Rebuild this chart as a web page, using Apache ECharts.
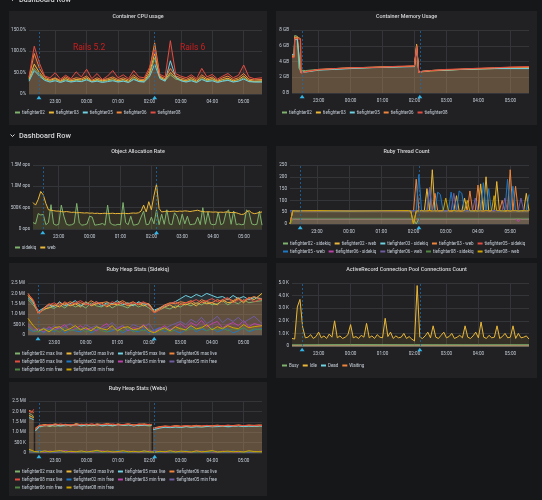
<!DOCTYPE html>
<html>
<head>
<meta charset="utf-8" />
<title>Dashboard</title>
<style>
  html, body { margin: 0; padding: 0; background: #161719; }
  #main { width: 542px; height: 500px; }
</style>
</head>
<body>
<div id="main"></div>
<script src="https://cdn.jsdelivr.net/npm/echarts@6.0.0/dist/echarts.min.js"></script>
<script>
// x is minutes after 22:00, so 60 = 23:00 and 455 = 05:35
var HOURS = [60, 120, 180, 240, 300, 360, 420];
var HOUR_LABELS = ['23:00', '00:00', '01:00', '02:00', '03:00', '04:00', '05:00'];
var ANNOTATIONS = [29, 250];

var T10 = [10,20,30,40,50,60,70,80,90,100,110,120,130,140,150,160,170,180,190,200,210,220,230,240,250,
  260,270,280,290,300,310,320,330,340,350,360,370,380,390,400,410,420,430,440,455];
var T5 = [];
for (var m = 10; m <= 455; m += 5) T5.push(m);

// tick labels
var cpuTicks = ['0%', '50.0%', '100.0%', '150.0%'];
var memTicks = ['0 B', '2 GB', '4 GB', '6 GB', '8 GB'];
var allocTicks = ['0 ops', '500K ops', '1.0M ops', '1.5M ops'];
var threadTicks = ['0', '50', '100', '150', '200', '250'];
var heapTicks = ['0', '500 K', '1.0 Mil', '1.5 Mil', '2.0 Mil', '2.5 Mil'];
var arTicks = ['0', '1.0 K', '2.0 K', '3.0 K', '4.0 K', '5.0 K'];

// Container CPU usage (%), on T10
var cpu02 = [33,60,46,34,30,33,29,33,29,32, 30,35,29,32,29,31,33,29,31,28, 36,30,29,44,85,38,31,45,35,32, 29,33,28,36,31,33,29,31,34,29, 31,38,30,29,29];
var cpu03 = [35,70,50,36,32,36,30,36,31,34, 33,38,30,34,31,33,36,31,34,30, 40,32,31,48,95,40,33,50,38,34, 31,36,30,40,33,36,30,34,37,31, 34,42,32,30,31];
var cpu05 = [30,55,42,32,28,31,27,31,28,30, 29,33,28,30,27,29,31,28,30,27, 34,29,28,40,70,36,30,78,40,31, 28,31,27,34,29,31,27,30,32,28, 30,35,29,28,28];
var cpu06 = [38,95,60,40,34,38,32,40,34,38, 36,42,32,38,33,36,40,34,38,33, 45,35,34,55,120,42,36,60,42,38, 34,40,33,45,36,40,32,38,42,34, 38,48,35,33,34];
var cpu08 = [40,112,72,42,38,50,35,44,36,52, 40,58,36,48,34,42,55,38,45,36, 55,40,38,62,105,46,40,125,48,42, 38,45,36,60,40,46,35,42,48,38, 44,68,40,36,38];

// Container Memory Usage (GB)
var memT = [10,14,15,20,23,26,27, 35,60,90,120,150,180,210,240, 243,244,247,248,255, 270,300,330,360,390,420,455];
var mem02 = [4.8,4.8,7.3,7.2,3.1,3.0,2.9, 2.85,3.0,3.1,3.2,3.25,3.3,3.35,3.4, 3.4,6.0,5.9,2.7,2.75, 2.85,2.95,3.0,3.1,3.15,3.15,3.2];
var mem03 = [4.6,4.6,7.0,7.0,7.0,2.7,2.6, 2.7,2.95,3.05,3.15,3.2,3.3,3.35,3.4, 3.45,6.2,6.1,2.6,2.7, 2.8,2.9,3.0,3.05,3.1,3.15,3.2];
var mem05 = [4.9,4.9,6.8,6.8,6.8,2.6,2.5, 2.65,2.9,3.0,3.1,3.2,3.25,3.3,3.35, 3.35,5.8,5.8,2.7,2.75, 2.85,2.9,3.0,3.05,3.1,3.1,3.1];
var mem06 = [4.7,4.7,7.1,7.1,7.0,6.9,2.6, 2.7,2.95,3.1,3.2,3.25,3.3,3.35,3.4, 3.45,6.1,6.0,2.65,2.75, 2.85,2.95,3.05,3.1,3.2,3.25,3.3];
var mem08 = [4.5,4.5,6.9,6.9,6.9,6.8,2.5, 2.7,3.0,3.1,3.2,3.25,3.3,3.4,3.45, 3.45,5.9,5.9,2.6,2.75, 2.85,3.0,3.05,3.15,3.2,3.3,3.35];

// Object Allocation Rate (K ops), on T5
var allocSidekiq = [150,120,360,330,340,100,150,570,120,90, 110,560,300,110,90,100,130,600,140,90,
  100,120,300,280,90,100,110,130,90,560, 140,100,90,110,100,620,150,100,300,90,
  100,120,280,420,100,110,280,120,450,100, 350,110,450,120,100,380,300,100,350,120,
  300,100,110,120,280,100,500,110,400,120, 100,110,400,100,130,380,450,110,420,100,
  120,100,110,450,380,120,100,110,420,90];
var allocWeb = [620,560,690,880,800,600,450,440,430,420, 420,410,400,410,400,390,395,380,385,380,
  375,380,370,375,365,370,360,365,370,360, 365,370,360,365,360,370,365,360,370,375,
  370,380,420,560,400,640,450,780,1050,480, 400,410,420,410,415,420,410,420,415,425,
  420,410,420,430,440,420,410,400,405,400, 395,400,390,395,390,400,395,385,390,380,
  360,340,350,400,430,380,360,370,390,400];

// Ruby Thread Count
var thrT = [10,15,20,25,30,60,120,180,230,235];
for (var k = 240; k <= 455; k += 5) thrT.push(k);
var web02 = [0,55,56,55,57,56,55,57,56,55,
  0,56,55,57,55,150,56,230,55,57, 55,56,55,57,55,56,120,55,56,110, 55,57,55,56,55,170,56,200,55,57, 56,180,55,57,55,56,55,57,56,55, 57,55,130,56];
var web03 = [0,56,55,57,56,55,57,56,55,56,
  55,190,56,55,57,55,56,55,130,56, 55,57,55,56,55,57,55,56,55,57, 55,140,56,55,165,56,55,57,55,56, 55,57,56,100,55,56,230,57,160,55, 56,55,57,56];
var web05 = [56,57,55,56,57,56,55,57,56,57,
  56,57,210,55,56,57,150,55,56,135, 125,56,55,57,135,55,56,140,130,55, 57,56,55,57,56,55,175,56,150,55, 57,56,55,57,56,190,55,160,56,55, 57,56,55,125];
var web06 = [55,56,57,55,56,57,56,55,57,56,
  55,56,57,55,56,55,155,56,55,57, 55,56,55,57,56,130,55,56,57,55, 56,55,57,110,55,56,57,55,56,55, 57,56,55,56,110,55,57,56,55,56, 110,57,55,56];
var web08 = [0,57,56,55,56,57,55,56,57,55,
  0,55,56,57,55,56,57,55,56,55, 57,56,110,55,56,57,55,56,55,57, 100,55,56,57,55,56,55,57,56,55, 120,56,57,55,56,57,55,56,57,55, 56,57,55,56];
var sqT = [10,15,20,240,245,250,430,435,440,455];
var sq02 = [0,22,22,22,0,22,22,22,22,22];
var sq03 = [22,22,22,22,22,22,22,22,22,22];
var sq05 = [21,21,22,22,21,22,22,22,22,22];
var sq06 = [23,23,23,23,23,23,23,10,23,23];
var sq08 = [0,24,24,24,24,24,24,24,24,24];

// Ruby Heap Stats (Sidekiq), millions, on T10
var sqMax02 = [1.70,1.45,1.10,1.20,1.35,1.28,1.45,1.30,1.50,1.35, 1.45,1.30,1.55,1.40,1.35,1.50,1.30,1.45,1.40,1.30, 1.50,1.35,1.45,1.30,1.10,1.20,1.32,1.25,1.40,1.35, 1.50,1.40,1.55,1.45,1.60,1.45,1.50,1.65,1.45,1.60, 1.50,1.70,1.55,1.60,1.65];
var sqMax03 = [1.90,1.60,1.05,1.25,1.30,1.45,1.35,1.55,1.40,1.50, 1.35,1.60,1.40,1.50,1.55,1.35,1.50,1.45,1.55,1.40, 1.45,1.55,1.40,1.50,1.15,1.25,1.35,1.45,1.30,1.50, 1.45,1.55,1.40,1.60,1.50,1.55,1.45,1.70,1.55,1.60, 1.75,1.55,1.80,1.70,2.00];
var sqMax05 = [1.80,1.55,1.15,1.30,1.45,1.35,1.60,1.40,1.50,1.65, 1.40,1.55,1.45,1.60,1.40,1.55,1.50,1.65,1.45,1.55, 1.40,1.60,1.50,1.45,1.20,1.30,1.40,1.50,1.60,1.75, 1.90,1.80,1.95,1.85,2.00,1.90,1.80,1.85,1.70,1.90, 1.75,1.85,1.70,1.80,1.75];
var sqMax06 = [2.00,1.65,1.00,1.30,1.50,1.40,1.55,1.45,1.60,1.50, 1.55,1.45,1.65,1.50,1.55,1.60,1.45,1.55,1.65,1.50, 1.60,1.45,1.55,1.50,1.10,1.30,1.45,1.55,1.50,1.60, 1.55,1.65,1.50,1.70,1.60,1.55,1.70,1.60,1.75,1.65, 1.80,1.60,1.75,1.85,1.70];
var sqMax08 = [1.95,1.70,1.05,1.25,1.45,1.55,1.40,1.60,1.45,1.55, 1.65,1.50,1.45,1.60,1.50,1.40,1.60,1.50,1.55,1.45, 1.55,1.50,1.60,1.40,1.05,1.20,1.40,1.50,1.60,1.45, 1.55,1.60,1.70,1.55,1.65,1.75,1.60,1.70,1.80,1.55, 1.70,1.65,1.80,1.60,1.75];
var sqFree02 = [0.30,0.15,0.25,0.10,0.30,0.15,0.35,0.10,0.25,0.20, 0.15,0.30,0.10,0.25,0.35,0.15,0.20,0.30,0.10,0.25, 0.20,0.15,0.30,0.10,0.25,0.35,0.15,0.30,0.20,0.10, 0.25,0.40,0.15,0.30,0.20,0.35,0.15,0.25,0.30,0.10, 0.20,0.35,0.15,0.25,0.30];
var sqFree03 = [0.45,0.20,0.30,0.15,0.40,0.25,0.35,0.50,0.20,0.30, 0.45,0.25,0.35,0.20,0.40,0.55,0.25,0.30,0.45,0.20, 0.35,0.30,0.50,0.25,0.15,0.30,0.45,0.25,0.40,0.55, 0.35,0.60,0.45,0.70,0.40,0.55,0.65,0.35,0.50,0.60, 0.45,0.70,0.40,0.55,0.45];
var sqFree05 = [0.55,0.30,0.20,0.35,0.25,0.45,0.30,0.40,0.55,0.35, 0.25,0.50,0.35,0.45,0.30,0.40,0.60,0.35,0.45,0.30, 0.50,0.40,0.35,0.55,0.20,0.35,0.30,0.45,0.55,0.65, 0.50,0.75,0.60,0.85,0.55,0.70,0.90,0.60,0.80,0.65, 0.85,0.60,0.75,0.90,0.55];
var sqFree06 = [0.40,0.20,0.15,0.30,0.20,0.25,0.15,0.35,0.20,0.25, 0.30,0.15,0.25,0.35,0.20,0.15,0.30,0.25,0.20,0.35, 0.15,0.25,0.20,0.30,0.10,0.20,0.30,0.15,0.25,0.35, 0.20,0.30,0.25,0.40,0.20,0.30,0.25,0.35,0.20,0.30, 0.25,0.35,0.20,0.30,0.25];
var sqFree08 = [0.80,0.45,0.20,0.30,0.15,0.35,0.40,0.20,0.30,0.45, 0.25,0.35,0.20,0.40,0.30,0.25,0.45,0.20,0.35,0.40, 0.25,0.30,0.45,0.20,0.10,0.25,0.35,0.20,0.40,0.30, 0.25,0.45,0.30,0.35,0.50,0.25,0.40,0.30,0.45,0.35, 0.30,0.50,0.35,0.40,0.45];

// ActiveRecord Connection Pool Connections Count
var arIdle = [600,550,3100,3700,1500,650,700,900,600,750, 1100,650,800,600,950,700,2000,650,800,600,
  700,900,1700,650,750,600,850,700,1800,650, 800,600,900,700,650,2200,750,1100,600,800,
  650,700,1000,600,750,550,400,4800,700,600, 800,1100,650,1600,700,600,850,1100,650,750,
  1000,600,700,850,650,1600,700,600,800,1100, 650,1900,700,600,850,650,700,1600,600,750,
  1000,650,700,1600,600,1000,650,700,800,550];
var arT = [10,120,240,360,455];
var arBusy = [90,110,100,95,100];
var arDead = [0,0,0,0,0];
var arWaiting = [0,0,0,0,0];

// Ruby Heap Stats (Webs), millions; null = no data while the process restarted
var webT = [10,15,19,20,22, 30,40,50,60,70,80,90,100,110,120,130,140,150,160,170,180,190,200,210,220,230,240,
  244,245,247,250, 260,270,280,290,300,310,320,330,340,350,360,370,380,390,400,410,420,430,440,450,455];
var wMax02 = [1.90,1.85,1.75,null,1.10, 1.25,1.30,1.32,1.28,1.33,1.30,1.35,1.32,1.36,1.30,1.34,1.31,1.35,1.33,1.30,1.36,1.32,1.35,1.31,1.34,1.33,1.30,
  1.32,null,1.15,1.20, 1.22,1.25,1.23,1.26,1.24,1.27,1.25,1.28,1.26,1.27,1.29,1.27,1.30,1.28,1.29,1.31,1.28,1.30,1.29,1.30,1.31];
var wMax03 = [1.80,1.75,1.70,null,1.15, 1.30,1.35,1.28,1.38,1.32,1.36,1.30,1.40,1.33,1.37,1.31,1.38,1.34,1.36,1.32,1.39,1.33,1.37,1.35,1.31,1.38,1.34,
  1.36,null,1.18,1.22, 1.25,1.28,1.24,1.30,1.27,1.29,1.26,1.31,1.28,1.30,1.27,1.32,1.29,1.31,1.28,1.33,1.30,1.32,1.29,1.31,1.33];
var wMax05 = [1.70,1.65,1.60,null,1.05, 1.28,1.33,1.30,1.35,1.29,1.34,1.31,1.36,1.30,1.35,1.32,1.37,1.30,1.34,1.31,1.36,1.33,1.35,1.30,1.34,1.32,1.36,
  1.33,null,1.12,1.18, 1.20,1.24,1.22,1.25,1.23,1.27,1.24,1.26,1.25,1.28,1.26,1.27,1.29,1.26,1.28,1.30,1.27,1.29,1.28,1.30,1.29];
var wMax06 = [2.05,2.00,1.95,null,1.20, 1.32,1.37,1.34,1.40,1.35,1.38,1.33,1.41,1.36,1.39,1.34,1.40,1.37,1.42,1.35,1.39,1.36,1.41,1.34,1.38,1.40,1.36,
  1.38,null,1.20,1.25, 1.27,1.30,1.28,1.32,1.29,1.31,1.30,1.33,1.29,1.32,1.31,1.34,1.30,1.33,1.32,1.35,1.31,1.34,1.33,1.35,1.34];
var wMax08 = [2.00,1.95,2.10,null,1.12, 1.35,1.30,1.38,1.33,1.40,1.34,1.37,1.32,1.39,1.35,1.41,1.33,1.38,1.36,1.40,1.34,1.37,1.39,1.33,1.40,1.35,1.38,
  1.35,null,1.17,1.22, 1.24,1.29,1.26,1.30,1.27,1.32,1.28,1.31,1.30,1.33,1.29,1.32,1.31,1.34,1.30,1.33,1.32,1.34,1.31,1.33,1.32];
var wFree02 = [0.10,0.05,0.12,0.04,0.08,0.03,0.10,0.05,0.07,0.04, 0.09,0.03,0.06,0.10,0.04,0.07,0.05,0.11,0.03,0.06, 0.08,0.04,0.10,0.05,0.06,0.03,0.09,0.05,0.07,0.04, 0.10,0.05,0.06,0.08,0.03,0.09,0.05,0.07,0.04,0.10, 0.05,0.08,0.04,0.06,0.07];
var wFree03 = [0.15,0.06,0.08,0.03,0.10,0.05,0.07,0.12,0.04,0.06, 0.05,0.09,0.04,0.07,0.11,0.05,0.08,0.04,0.06,0.09, 0.05,0.07,0.04,0.10,0.05,0.08,0.04,0.06,0.09,0.05, 0.07,0.04,0.10,0.05,0.08,0.06,0.04,0.09,0.05,0.07, 0.04,0.08,0.06,0.05,0.09];
var wFree05 = [0.08,0.04,0.06,0.10,0.05,0.07,0.03,0.09,0.06,0.04, 0.08,0.05,0.10,0.04,0.06,0.08,0.03,0.07,0.05,0.09, 0.04,0.06,0.08,0.05,0.12,0.06,0.04,0.08,0.05,0.07, 0.09,0.04,0.06,0.10,0.05,0.07,0.08,0.04,0.06,0.09, 0.05,0.07,0.04,0.08,0.06];
var wFree06 = [0.12,0.05,0.04,0.07,0.05,0.08,0.04,0.06,0.09,0.05, 0.04,0.07,0.05,0.08,0.04,0.06,0.09,0.05,0.07,0.04, 0.06,0.08,0.05,0.04,0.07,0.05,0.08,0.04,0.06,0.05, 0.08,0.06,0.04,0.07,0.05,0.09,0.04,0.06,0.05,0.08, 0.06,0.04,0.07,0.05,0.06];
var wFree08 = [0.18,0.08,0.05,0.10,0.06,0.09,0.12,0.05,0.08,0.06, 0.10,0.05,0.08,0.13,0.06,0.09,0.05,0.07,0.11,0.06, 0.08,0.05,0.10,0.06,0.04,0.08,0.06,0.11,0.05,0.09, 0.07,0.05,0.10,0.06,0.08,0.12,0.05,0.07,0.09,0.06, 0.08,0.05,0.11,0.07,0.06];

// grafana palette
var GREEN = '#7EB26D', YELLOW = '#EAB839', CYAN = '#6ED0E0', ORANGE = '#EF843C', RED = '#E24D42',
    BLUE = '#1F78C1', PINK = '#BA43A9', PURPLE = '#705DA0', DKGREEN = '#508642', DKYELLOW = '#CCA300';
var FONT = 'Roboto, "DejaVu Sans", sans-serif';
var TXT = '#c7d0d9', GRIDC = '#343538', PANEL = '#212124';

var panels = [
  { title: 'Container CPU usage', x: 9, y: 11, w: 258, h: 114, ty: 17, grid: [29, 30, 233, 64], max: 150, step: 50, ticks: cpuTicks },
  { title: 'Container Memory Usage', x: 276, y: 11, w: 261, h: 114, ty: 17, grid: [292, 30, 237, 63], max: 8, step: 2, ticks: memTicks },
  { title: 'Object Allocation Rate', x: 9, y: 146, w: 258, h: 111, ty: 152, grid: [33, 165, 229, 64], max: 1500, step: 500, ticks: allocTicks },
  { title: 'Ruby Thread Count', x: 276, y: 146, w: 261, h: 112, ty: 152, grid: [290, 165, 239, 59], max: 250, step: 50, ticks: threadTicks },
  { title: 'Ruby Heap Stats (Sidekiq)', x: 9, y: 263, w: 258, h: 115, ty: 270, grid: [28, 283, 234, 52], max: 2.5, step: 0.5, ticks: heapTicks },
  { title: 'ActiveRecord Connection Pool Connections Count', x: 276, y: 263, w: 261, h: 115, ty: 270, grid: [292, 283, 237, 63], max: 5000, step: 1000, ticks: arTicks },
  { title: 'Ruby Heap Stats (Webs)', x: 9, y: 382, w: 258, h: 114, ty: 389, grid: [29, 401, 233, 52], max: 2.5, step: 0.5, ticks: heapTicks }
];

function pairs(t, v) {
  return t.map(function (x, i) { return [x, v[i]]; });
}

function line(p, name, color, t, v) {
  return {
    name: name, type: 'line', xAxisIndex: p, yAxisIndex: p,
    data: pairs(t, v), symbol: 'none', animation: false,
    lineStyle: { width: 1, color: color }, itemStyle: { color: color },
    areaStyle: { color: color, opacity: 0.1 },
    emphasis: { disabled: true }
  };
}

// dashed annotation lines with the small triangle under the axis
function annotate(s) {
  s.markLine = {
    silent: true, symbol: 'none', animation: false, label: { show: false },
    lineStyle: { color: 'rgba(30,105,165,0.8)', type: [2, 2], width: 1 },
    data: ANNOTATIONS.map(function (a) { return { xAxis: a }; })
  };
  s.markPoint = {
    silent: true, symbol: 'triangle', symbolSize: [5, 3.5], symbolOffset: [0, 3.5], animation: false,
    itemStyle: { color: '#33b5e5' }, label: { show: false },
    data: ANNOTATIONS.map(function (a) { return { coord: [a, 0] }; })
  };
  return s;
}

function legend(names, left, top) {
  return {
    data: names, left: left, top: top, padding: 0, itemGap: 4,
    itemWidth: 5, itemHeight: 2, icon: 'rect', selectedMode: false,
    textStyle: { color: TXT, fontSize: 4.5, fontFamily: FONT, padding: [0, 0, 0, -3] }
  };
}

var series = [];
function add(p, list) {
  list.forEach(function (s, i) {
    var ser = line(p, s[0], s[1], s[2], s[3]);
    if (i === 0) annotate(ser);
    series.push(ser);
  });
}

add(0, [['tiefighter02', GREEN, T10, cpu02], ['tiefighter03', YELLOW, T10, cpu03], ['tiefighter05', CYAN, T10, cpu05],
        ['tiefighter06', ORANGE, T10, cpu06], ['tiefighter08', RED, T10, cpu08]]);
add(1, [['tiefighter02', GREEN, memT, mem02], ['tiefighter03', YELLOW, memT, mem03], ['tiefighter05', CYAN, memT, mem05],
        ['tiefighter06', ORANGE, memT, mem06], ['tiefighter08', RED, memT, mem08]]);
add(2, [['sidekiq', GREEN, T5, allocSidekiq], ['web', YELLOW, T5, allocWeb]]);
add(3, [['tiefighter02 - sidekiq', GREEN, sqT, sq02], ['tiefighter02 - web', YELLOW, thrT, web02],
        ['tiefighter03 - sidekiq', CYAN, sqT, sq03], ['tiefighter03 - web', ORANGE, thrT, web03],
        ['tiefighter05 - sidekiq', RED, sqT, sq05], ['tiefighter05 - web', BLUE, thrT, web05],
        ['tiefighter06 - sidekiq', PINK, sqT, sq06], ['tiefighter06 - web', PURPLE, thrT, web06],
        ['tiefighter08 - sidekiq', DKGREEN, sqT, sq08], ['tiefighter08 - web', DKYELLOW, thrT, web08]]);
add(4, [['tiefighter02 max live', GREEN, T10, sqMax02], ['tiefighter03 max live', YELLOW, T10, sqMax03],
        ['tiefighter05 max live', CYAN, T10, sqMax05], ['tiefighter06 max live', ORANGE, T10, sqMax06],
        ['tiefighter08 max live', RED, T10, sqMax08], ['tiefighter02 min free', BLUE, T10, sqFree02],
        ['tiefighter03 min free', PINK, T10, sqFree03], ['tiefighter05 min free', PURPLE, T10, sqFree05],
        ['tiefighter06 min free', DKGREEN, T10, sqFree06], ['tiefighter08 min free', DKYELLOW, T10, sqFree08]]);
add(5, [['Busy', GREEN, arT, arBusy], ['Idle', YELLOW, T5, arIdle], ['Dead', CYAN, arT, arDead], ['Waiting', ORANGE, arT, arWaiting]]);
add(6, [['tiefighter02 max live', GREEN, webT, wMax02], ['tiefighter03 max live', YELLOW, webT, wMax03],
        ['tiefighter05 max live', CYAN, webT, wMax05], ['tiefighter06 max live', ORANGE, webT, wMax06],
        ['tiefighter08 max live', RED, webT, wMax08], ['tiefighter02 min free', BLUE, T10, wFree02],
        ['tiefighter03 min free', PINK, T10, wFree03], ['tiefighter05 min free', PURPLE, T10, wFree05],
        ['tiefighter06 min free', DKGREEN, T10, wFree06], ['tiefighter08 min free', DKYELLOW, T10, wFree08]]);

var grids = [], xAxes = [], yAxes = [], graphics = [];
panels.forEach(function (p, i) {
  grids.push({ left: p.grid[0], top: p.grid[1], width: p.grid[2], height: p.grid[3] });
  xAxes.push({
    gridIndex: i, type: 'value', min: 10, max: 455,
    axisLine: { show: false }, axisTick: { show: false, customValues: HOURS },
    axisLabel: { customValues: HOURS, color: TXT, fontSize: 4.6, fontFamily: FONT, margin: 5,
      formatter: function (v) { return HOUR_LABELS[HOURS.indexOf(v)]; } },
    splitLine: { show: true, lineStyle: { color: GRIDC, width: 1 } }
  });
  yAxes.push({
    gridIndex: i, type: 'value', min: 0, max: p.max, interval: p.step,
    axisLine: { show: false }, axisTick: { show: false },
    axisLabel: { color: TXT, fontSize: 4.6, fontFamily: FONT, margin: 3,
      formatter: function (v) { return p.ticks[Math.round(v / p.step)]; } },
    splitLine: { show: true, lineStyle: { color: GRIDC, width: 1 } }
  });
  graphics.push({ type: 'rect', z: -10, silent: true,
    shape: { x: p.x, y: p.y, width: p.w, height: p.h }, style: { fill: PANEL } });
  graphics.push({ type: 'text', z: 10, silent: true,
    style: { x: p.x + p.w / 2, y: p.ty, text: p.title, fill: '#d8d9da', fontSize: 5.4, fontWeight: 500,
      fontFamily: FONT, align: 'center', verticalAlign: 'middle', textAlign: 'center', textVerticalAlign: 'middle' } });
});

// row headers
[0, 136].forEach(function (y) {
  graphics.push({ type: 'polyline', z: 10, silent: true,
    shape: { points: [[10.5, y - 1.5], [12.5, y + 0.5], [14.5, y - 1.5]] },
    style: { stroke: '#d8d9da', lineWidth: 1, fill: null } });
  graphics.push({ type: 'text', z: 10, silent: true,
    style: { x: 19, y: y, text: 'Dashboard Row', fill: '#d8d9da', fontSize: 7.4, fontWeight: 500,
      fontFamily: FONT, verticalAlign: 'middle', textVerticalAlign: 'middle' } });
});

// hand written notes on the CPU panel
graphics.push({ type: 'text', z: 20, silent: true,
  style: { x: 73, y: 48, text: 'Rails 5.2', fill: '#cc1f1f', fontSize: 8.5, fontFamily: FONT, verticalAlign: 'middle', textVerticalAlign: 'middle' } });
graphics.push({ type: 'text', z: 20, silent: true,
  style: { x: 180, y: 48, text: 'Rails 6', fill: '#cc1f1f', fontSize: 8.5, fontFamily: FONT, verticalAlign: 'middle', textVerticalAlign: 'middle' } });

var tf = ['tiefighter02', 'tiefighter03', 'tiefighter05', 'tiefighter06', 'tiefighter08'];
var legends = [
  legend(tf, 15, 110),
  legend(tf, 282, 110),
  legend(['sidekiq', 'web'], 15, 245),
  legend(['tiefighter02 - sidekiq', 'tiefighter02 - web', 'tiefighter03 - sidekiq', 'tiefighter03 - web', 'tiefighter05 - sidekiq'], 283, 241),
  legend(['tiefighter05 - web', 'tiefighter06 - sidekiq', 'tiefighter06 - web', 'tiefighter08 - sidekiq', 'tiefighter08 - web'], 283, 249),
  legend(['tiefighter02 max live', 'tiefighter03 max live', 'tiefighter05 max live', 'tiefighter06 max live'], 15, 351),
  legend(['tiefighter08 max live', 'tiefighter02 min free', 'tiefighter03 min free', 'tiefighter05 min free'], 15, 359),
  legend(['tiefighter06 min free', 'tiefighter08 min free'], 15, 367),
  legend(['Busy', 'Idle', 'Dead', 'Waiting'], 282, 363),
  legend(['tiefighter02 max live', 'tiefighter03 max live', 'tiefighter05 max live', 'tiefighter06 max live'], 15, 469),
  legend(['tiefighter08 max live', 'tiefighter02 min free', 'tiefighter03 min free', 'tiefighter05 min free'], 15, 477),
  legend(['tiefighter06 min free', 'tiefighter08 min free'], 15, 485)
];

var chart = echarts.init(document.getElementById('main'), null, { renderer: 'canvas' });
chart.setOption({
  backgroundColor: '#161719',
  animation: false,
  textStyle: { fontFamily: FONT },
  tooltip: { show: false },
  grid: grids,
  xAxis: xAxes,
  yAxis: yAxes,
  legend: legends,
  graphic: { elements: graphics },
  series: series
});
</script>
</body>
</html>
